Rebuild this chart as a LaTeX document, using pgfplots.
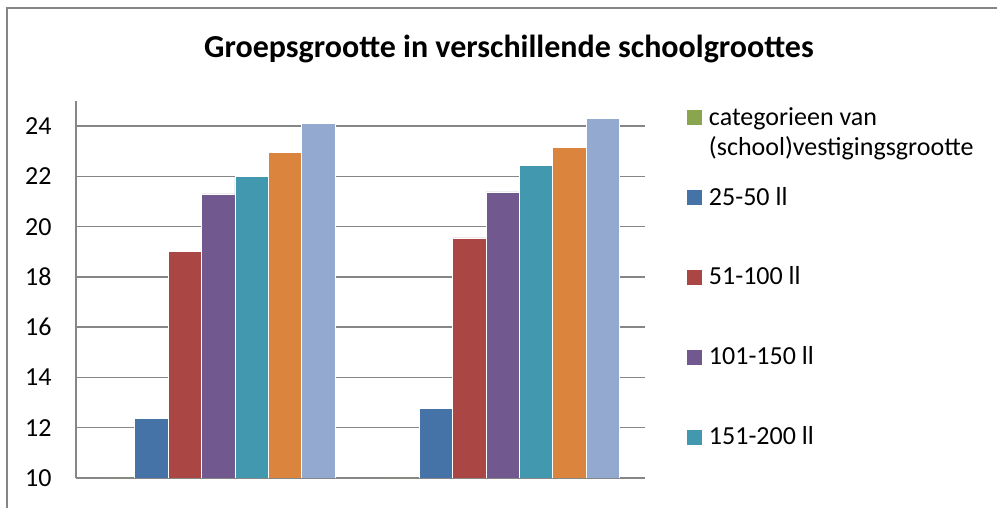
\documentclass[border=0pt]{standalone}
\usepackage{fontspec}
\setmainfont{Carlito}
\usepackage{pgfplots}
\pgfplotsset{compat=1.18}
\definecolor{cgreen}{HTML}{89A54E}
\definecolor{cblue}{HTML}{4572A7}
\definecolor{cred}{HTML}{AA4643}
\definecolor{cpurple}{HTML}{71588F}
\definecolor{cteal}{HTML}{4198AF}
\definecolor{corange}{HTML}{DB843D}
\definecolor{clblue}{HTML}{93A9CF}
\definecolor{axgray}{HTML}{868686}
\begin{document}
\begin{tikzpicture}
\useasboundingbox (0pt,0pt) rectangle (498.5pt,254pt);
\draw[color=axgray, line width=1pt] (3.5pt,0pt) -- (3.5pt,250pt) -- (498.5pt,250pt);
\node[anchor=base, inner sep=0pt, font=\fontsize{16}{19}\selectfont\bfseries] at (254.5pt,225pt) {Groepsgrootte in verschillende schoolgroottes};
\begin{axis}[
  at={(38pt,15pt)}, anchor=south west,
  scale only axis, width=284.5pt, height=188.5pt,
  xmin=-0.5, xmax=1.5, ymin=10, ymax=25,
  ybar=0pt, bar width=16.7pt,
  xtick=\empty, ytick={10,12,14,16,18,20,22,24},
  ymajorgrids, grid style={color=axgray, line width=0.75pt},
  axis x line*=bottom, axis y line*=left,
  axis line style={-, color=axgray, line width=0.75pt},
  major tick length=0pt,
  yticklabel style={font=\fontsize{13}{16}\selectfont, inner sep=0pt, xshift=-12pt},
  /pgf/number format/assume math mode=true,
  legend image code/.code={\fill[#1,draw=none] (0pt,0pt) rectangle (7.5pt,7.5pt);},
  legend style={draw=none, fill=none, inner sep=0pt, outer sep=0pt,
    at={(axis description cs:1.0738,0.9894)}, anchor=north west,
    row sep=0pt, column sep=3.5pt,
    font=\fontsize{13}{16}\selectfont,
    nodes={inner sep=0pt, text height=10pt, text depth=30pt, anchor=base west}},
  legend cell align=left,
  every axis plot/.append style={draw=white, line width=0.4pt},
]
\addplot[fill=cgreen] coordinates {(0,10.0) (1,10.0)};
\addplot[fill=cblue] coordinates {(0,12.38) (1,12.75)};
\addplot[fill=cred] coordinates {(0,19.02) (1,19.55)};
\addplot[fill=cpurple] coordinates {(0,21.3) (1,21.38)};
\addplot[fill=cteal] coordinates {(0,22.0) (1,22.43)};
\addplot[fill=corange] coordinates {(0,22.94) (1,23.16)};
\addplot[fill=clblue] coordinates {(0,24.1) (1,24.3)};
\legend{{\vtop{\hbox{categorieen van}\vskip-1pt\hbox{(school)vestigingsgrootte}}},25-50 ll,51-100 ll,101-150 ll,151-200 ll}
\end{axis}
\end{tikzpicture}
\end{document}
